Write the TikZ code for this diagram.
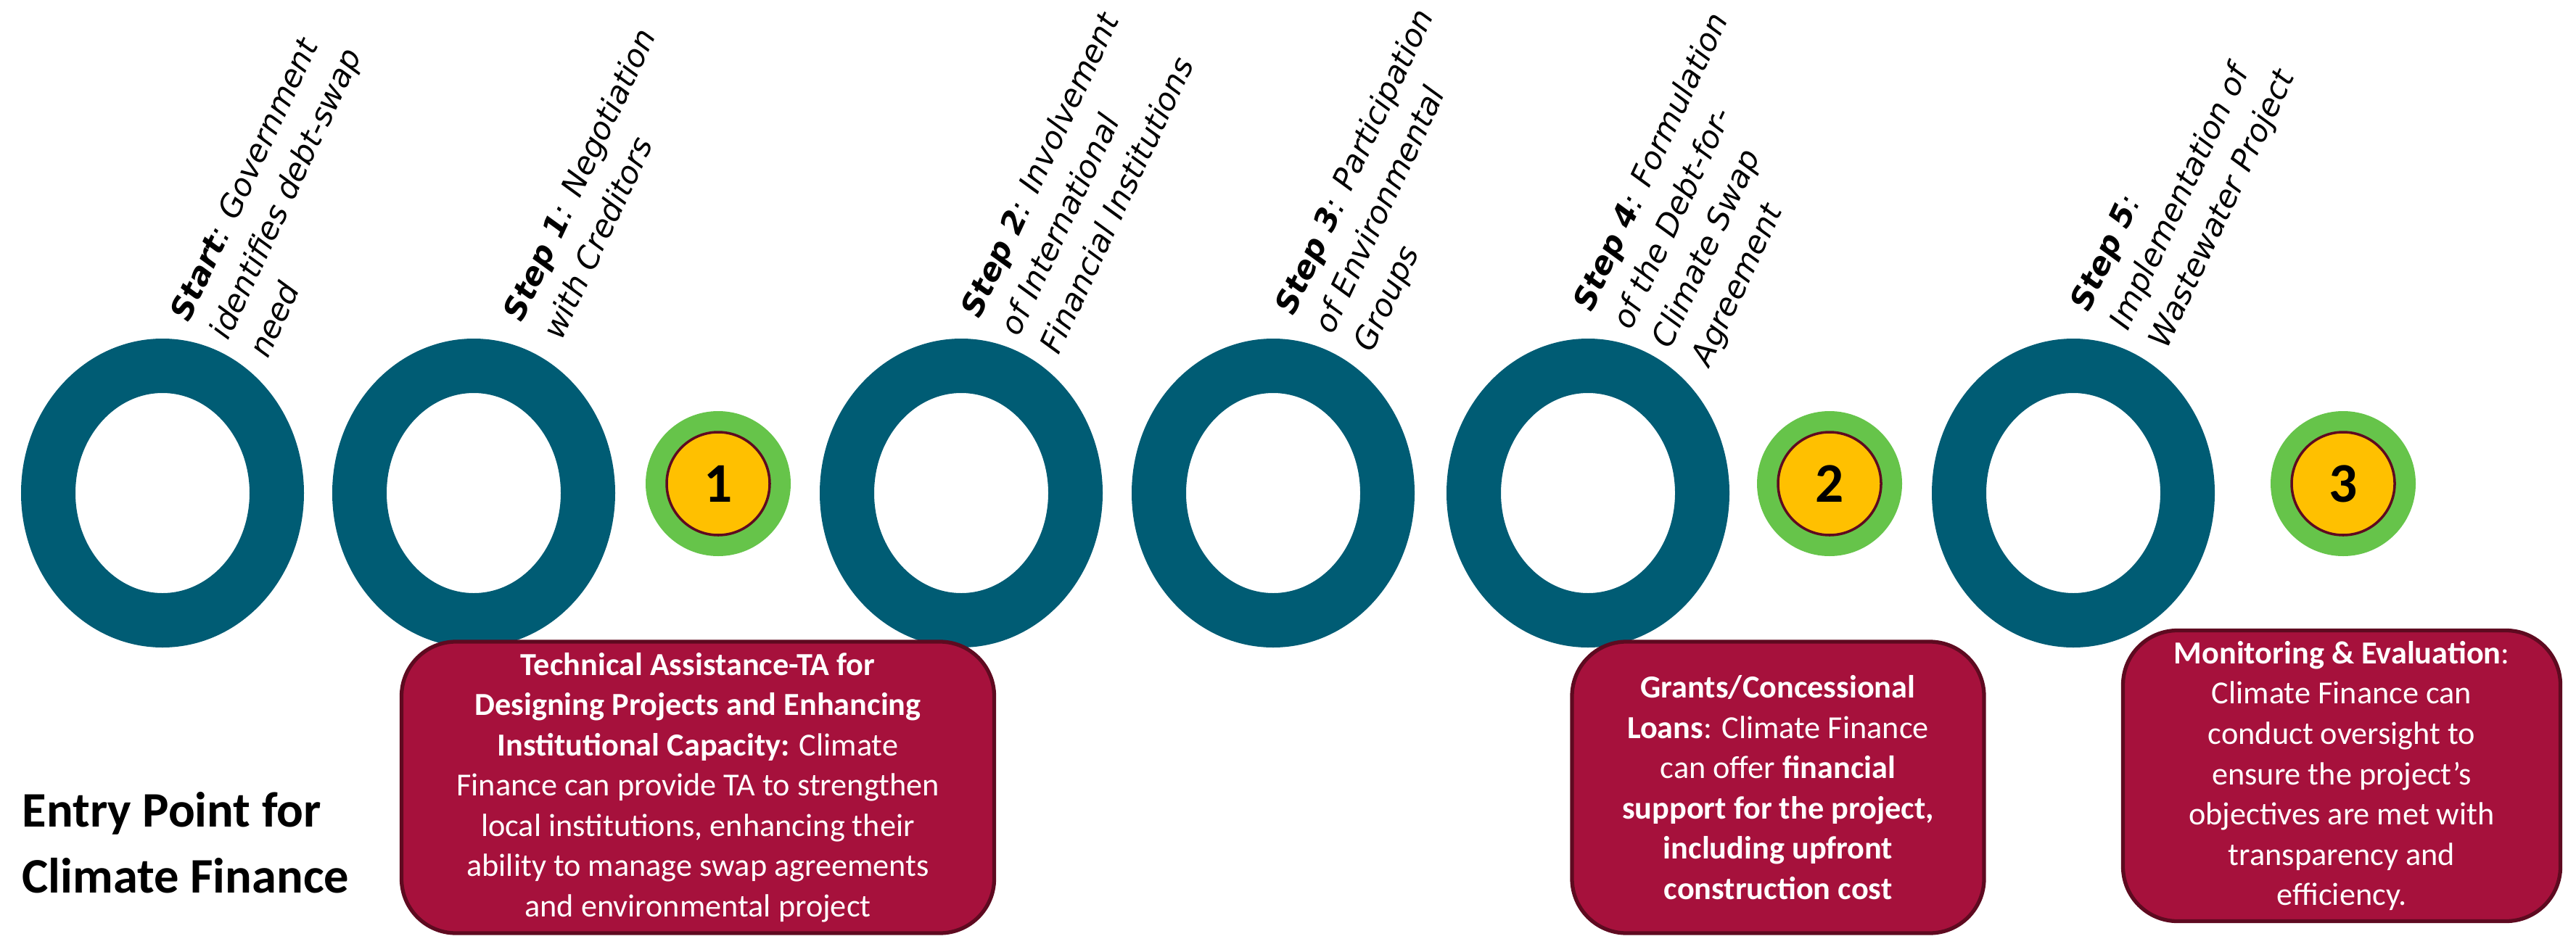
\documentclass[tikz,border=0pt]{standalone}
\usepackage{fontspec}
\setmainfont{Carlito}
\newfontfamily\stepfont{DejaVu Sans}
\usetikzlibrary{shapes.geometric,positioning}
\definecolor{ringteal}{HTML}{005C74}
\definecolor{dotgreen}{HTML}{66C44A}
\definecolor{dotyellow}{HTML}{FFC000}
\definecolor{boxred}{HTML}{A6113C}
\definecolor{boxedge}{HTML}{5E0A20}
\tikzset{
  ring/.style={ellipse, draw=ringteal, line width=0.75cm, minimum width=3.15cm,
    minimum height=3.51cm, inner sep=0pt},
  outerdot/.style={circle, fill=dotgreen, minimum size=2cm, inner sep=0pt},
  innerdot/.style={circle, fill=dotyellow, draw=boxedge, line width=1pt,
    minimum size=1.42cm, inner sep=0pt, font=\bfseries\fontsize{22}{24}\selectfont},
  steplabel/.style={rotate=65, anchor=south west, align=left, inner sep=0pt,
    font=\stepfont\itshape\fontsize{12.2}{17}\selectfont},
  entrybox/.style={draw=boxedge, line width=1.5pt, fill=boxred, rounded corners=0.75cm,
    text=white, align=center, inner sep=0pt,
    font=\fontsize{12.6}{15.8}\selectfont}
}
\begin{document}
\begin{tikzpicture}
\useasboundingbox (0,0) rectangle (35.51,13.12);

% rings
\node[ring] (start) at (2.24,6.32) {};
\node[ring] (s1) at (6.53,6.32) {};
\node[ring] (s2) at (13.25,6.32) {};
\node[ring] (s3) at (17.55,6.32) {};
\node[ring] (s4) at (21.89,6.32) {};
\node[ring] (s5) at (28.58,6.32) {};

% entry points
\foreach \n/\x in {1/9.90, 2/25.22, 3/32.30}{
  \node[outerdot] (dot\n) at (\x,6.45) {};
  \node[innerdot] (num\n) at (dot\n) {\n};
}

% step labels
\node[steplabel] (lstart) at (3.70,8.15) {\textbf{Start}: Government\\identifies debt-swap\\need};
\node[steplabel] (ls1) at (7.75,8.40) {\textbf{Step 1}: Negotiation\\with Creditors};
\node[steplabel] (ls2) at (14.60,8.20) {\textbf{Step 2}: Involvement\\of International\\Financial Institutions};
\node[steplabel] (ls3) at (19.00,8.20) {\textbf{Step 3}: Participation\\of Environmental\\Groups};
\node[steplabel] (ls4) at (23.65,8.00) {\textbf{Step 4}: Formulation\\of the Debt-for-\\Climate Swap\\Agreement};
\node[steplabel] (ls5) at (29.96,8.25) {\textbf{Step 5}:\\Implementation of\\Wastewater Project};

% finance boxes
\node[font=\bfseries\fontsize{19.5}{26}\selectfont, align=left] (entry) at (2.56,1.50)
  {Entry Point for\\Climate Finance};
\node[entrybox, minimum width=8.17cm, minimum height=4.02cm] (ta) at (9.62,2.26)
  {\textbf{Technical Assistance-TA for}\\\textbf{Designing Projects and Enhancing}\\
   \textbf{Institutional Capacity:} Climate\\Finance can provide TA to strengthen\\
   local institutions, enhancing their\\ability to manage swap agreements\\
   and environmental project};
\node[entrybox, minimum width=5.68cm, minimum height=4.02cm] (grants) at (24.51,2.26)
  {\textbf{Grants/Concessional}\\\textbf{Loans}: Climate Finance\\can offer \textbf{financial}\\
   \textbf{support for the project,}\\\textbf{including upfront}\\\textbf{construction cost}};
\node[entrybox, minimum width=6.03cm, minimum height=4.01cm] (monitor) at (32.28,2.42)
  {\textbf{Monitoring \& Evaluation}:\\Climate Finance can\\conduct oversight to\\
   ensure the project's\\objectives are met with\\transparency and\\efficiency.};

\end{tikzpicture}
\end{document}
